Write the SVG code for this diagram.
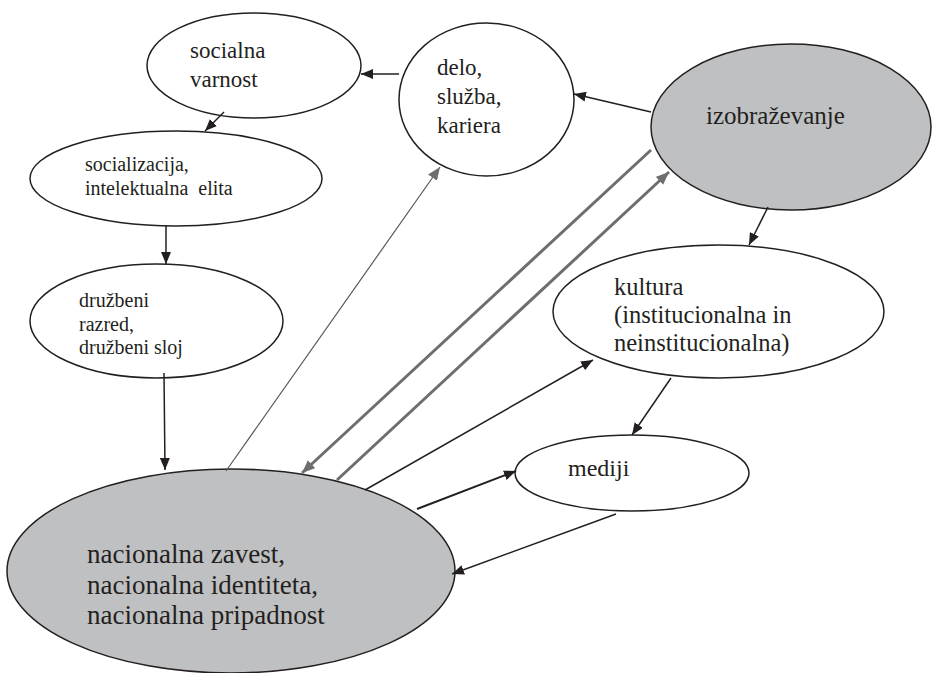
<svg xmlns="http://www.w3.org/2000/svg" width="933" height="673" viewBox="0 0 933 673">
<style>
.n{stroke:#231f20;stroke-width:1.5}
.w{fill:#ffffff}
.g{fill:#bfc0c2}
.c{fill:none;stroke:#231f20;stroke-width:1.5}
.cb{fill:none;stroke:#231f20;stroke-width:2}
.gt{fill:none;stroke:#6d6e70;stroke-width:3}
.gn{fill:none;stroke:#58595b;stroke-width:1.2}
</style>
<defs>
<marker id="ab" markerUnits="userSpaceOnUse" viewBox="0 0 12 10" refX="12" refY="5" markerWidth="12" markerHeight="10" orient="auto"><path d="M0,0 L12,5 L0,10 z" fill="#231f20"/></marker>
<marker id="ag" markerUnits="userSpaceOnUse" viewBox="0 0 12 10" refX="12" refY="5" markerWidth="13" markerHeight="11" orient="auto"><path d="M0,0 L12,5 L0,10 z" fill="#6d6e70"/></marker>
</defs>
<rect width="933" height="673" fill="#ffffff"/>
<g font-family="'Liberation Serif', serif" fill="#231f20">
<g id="socialna-varnost">
<ellipse class="n w" cx="254" cy="65.5" rx="107" ry="52.5"/>
<text font-size="23"><tspan x="190" y="58">socialna</tspan><tspan x="190" y="87">varnost</tspan></text>
</g>
<g id="delo">
<ellipse class="n w" cx="486.5" cy="99.5" rx="87.5" ry="76.5"/>
<text font-size="23"><tspan x="437" y="75">delo,</tspan><tspan x="437" y="104">služba,</tspan><tspan x="437" y="133">kariera</tspan></text>
</g>
<g id="izobrazevanje">
<ellipse class="n g" cx="791" cy="127" rx="140" ry="83"/>
<text font-size="25" x="706" y="124">izobraževanje</text>
</g>
<g id="socializacija">
<ellipse class="n w" cx="176" cy="178.5" rx="146" ry="47.5"/>
<text font-size="20"><tspan x="85" y="171">socializacija,</tspan><tspan x="85" y="195">intelektualna&#160; elita</tspan></text>
</g>
<g id="druzbeni">
<ellipse class="n w" cx="156.5" cy="321" rx="126.5" ry="57"/>
<text font-size="20"><tspan x="79" y="307">družbeni</tspan><tspan x="79" y="331">razred,</tspan><tspan x="79" y="354">družbeni sloj</tspan></text>
</g>
<g id="kultura">
<ellipse class="n w" cx="718.5" cy="311.5" rx="165.5" ry="66.5"/>
<text font-size="24.5"><tspan x="614" y="295">kultura</tspan><tspan x="614" y="323">(institucionalna in</tspan><tspan x="614" y="351">neinstitucionalna)</tspan></text>
</g>
<g id="mediji">
<ellipse class="n w" cx="632" cy="473" rx="117" ry="38"/>
<text font-size="24" x="568" y="476">mediji</text>
</g>
<g id="nacionalna">
<ellipse class="n g" cx="231" cy="571" rx="224" ry="102"/>
<text font-size="27"><tspan x="87" y="563">nacionalna zavest,</tspan><tspan x="87" y="594">nacionalna identiteta,</tspan><tspan x="87" y="624">nacionalna pripadnost</tspan></text>
</g>
</g>
<g id="connectors">
<line class="c" x1="399" y1="74" x2="361" y2="74" marker-end="url(#ab)"/>
<line class="c" x1="651" y1="112" x2="574" y2="94" marker-end="url(#ab)"/>
<line class="c" x1="224" y1="112" x2="205" y2="131" marker-end="url(#ab)"/>
<line class="c" x1="166" y1="226" x2="166" y2="264" marker-end="url(#ab)"/>
<line class="c" x1="164" y1="373" x2="165" y2="470" marker-end="url(#ab)"/>
<line class="gn" x1="226" y1="471" x2="440" y2="167" marker-end="url(#ag)"/>
<line class="gt" x1="651" y1="150" x2="302" y2="473" marker-end="url(#ag)"/>
<line class="gt" x1="337" y1="480" x2="669" y2="172" marker-end="url(#ag)"/>
<line class="c" x1="365" y1="490" x2="593" y2="360" marker-end="url(#ab)"/>
<line class="cb" x1="417" y1="509" x2="516" y2="471" marker-end="url(#ab)"/>
<line class="c" x1="671" y1="378" x2="632" y2="435" marker-end="url(#ab)"/>
<line class="c" x1="768" y1="207" x2="749" y2="245" marker-end="url(#ab)"/>
<line class="c" x1="616" y1="514" x2="452" y2="574" marker-end="url(#ab)"/>
</g>
</svg>
